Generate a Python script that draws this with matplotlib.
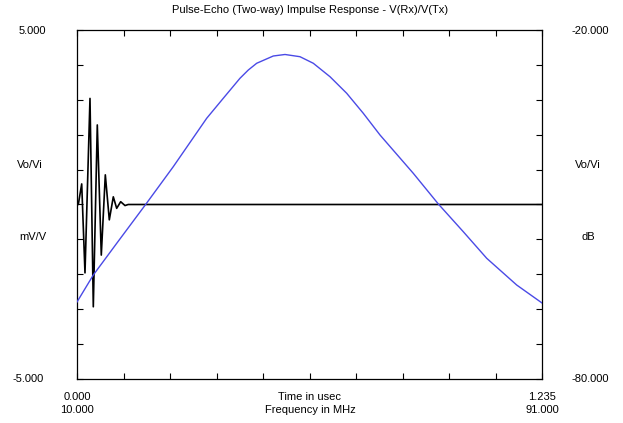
import matplotlib
matplotlib.use('Agg')
import matplotlib.pyplot as plt
import numpy as np

plt.rcParams['font.family'] = ['Liberation Sans', 'DejaVu Sans']
plt.rcParams['font.size'] = 8

# 脉冲回波时域波形 (us, mV/V)
time_us = [0.0, 0.0035, 0.0125, 0.0212, 0.0345, 0.0433, 0.0539, 0.0645, 0.0752,
           0.0858, 0.0964, 0.1054, 0.116, 0.1275, 0.136, 1.235]
volt_mv = [0.0, 0.0, 0.59, -1.96, 3.04, -2.93, 2.28, -1.45, 0.85,
           -0.44, 0.22, -0.11, 0.08, -0.03, 0.0, 0.0]

# 频率响应 (MHz, dB)
freq_mhz = [10.0, 12.84, 16.92, 22.02, 26.77, 32.59, 35.48, 38.39, 39.84, 41.30, 44.19,
            46.23, 48.84, 51.16, 54.07, 56.98, 59.87, 62.78, 68.58, 72.94, 77.29,
            81.37, 86.59, 91.0]
gain_db = [-66.76, -62.12, -56.67, -49.91, -43.50, -35.18, -31.74, -28.30, -26.88, -25.72,
           -24.47, -24.21, -24.59, -25.72, -28.03, -30.88, -34.32, -38.05, -44.64, -49.91,
           -54.68, -59.25, -63.84, -66.93]

title = "Pulse-Echo (Two-way) Impulse Response - V(Rx)/V(Tx)"
left_top, left_bottom = "5.000", "-5.000"
right_top, right_bottom = "-20.000", "-80.000"
time_ticks = ["0.000", "1.235"]
freq_ticks = ["10.000", "91.000"]

W, H = 623, 423
fig = plt.figure(figsize=(W / 100, H / 100), dpi=100)
L, R, T, B = 77, 542, 30, 379
pos = [L / W, 1 - B / H, (R - L) / W, (B - T) / H]

ax = fig.add_axes(pos)
ax.set_xlim(0, 1.235)
ax.set_ylim(-5, 5)
ax.set_xticks(np.linspace(0, 1.235, 11))
ax.set_yticks(np.linspace(-5, 5, 11))
ax.tick_params(direction='in', length=4, width=0.8, top=True, right=True,
               labelleft=False, labelbottom=False)
for s in ax.spines.values():
    s.set_linewidth(0.9)
ax.plot(time_us, volt_mv, color='black', lw=1.2)

# 频率响应用另一套坐标
ax2 = fig.add_axes(pos, frameon=False)
ax2.set_xlim(10, 91)
ax2.set_ylim(-80, -20)
ax2.axis('off')
ax2.plot(freq_mhz, gain_db, color='#4a4ae6', lw=1.0)

def ft(x, y, s, **kw):
    fig.text(x / W, 1 - y / H, s, ha='center', va='center', **kw)

ft(310, 10, title)
ft(32, 31, left_top)
ft(30, 165, "Vo/Vi")
ft(33, 237, "mV/V")
ft(28, 379, left_bottom)
ft(590, 31, right_top)
ft(588, 165, "Vo/Vi")
ft(588, 237, "dB")
ft(590, 379, right_bottom)
ft(L, 397, time_ticks[0])
ft(R, 397, time_ticks[1])
ft(310, 397, "Time in usec")
ft(L, 410, freq_ticks[0])
ft(R, 410, freq_ticks[1])
ft(310, 410, "Frequency in MHz")

fig.savefig('out.png', dpi=100)
